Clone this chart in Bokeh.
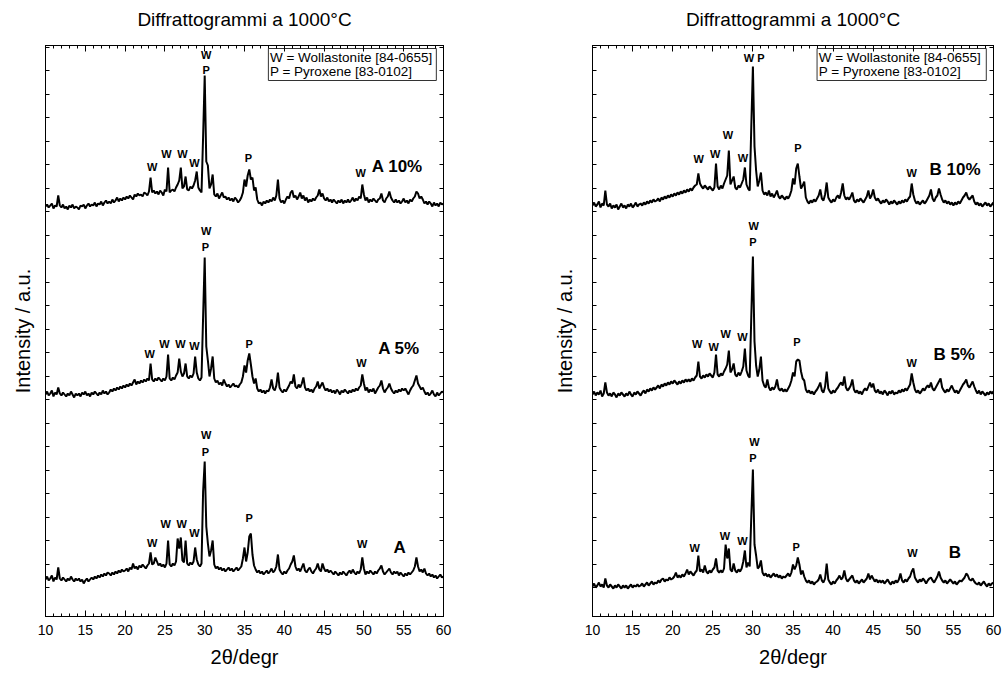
from bokeh.plotting import figure
from bokeh.layouts import row
from bokeh.models import Range1d, LinearAxis, SingleIntervalTicker, FixedTicker
from bokeh.core.properties import value
from bokeh.embed import file_html
from bokeh.resources import INLINE

FONT = "Liberation Sans"
TITLE = "Diffrattogrammi a 1000°C"
X_LABEL = "2θ/degr"
Y_LABEL = "Intensity / a.u."
LEGEND_LINES = ["W = Wollastonite [84-0655]", "P = Pyroxene [83-0102]"]

# scan grid (2theta, step 0.2 degr)
two_theta = [round(10 + 0.2 * i, 1) for i in range(251)]

# ---------------- left panel (stacked, a.u.) ----------------
a_10 = [
    410, 412, 409, 411, 413, 408, 411, 410, 421, 411,   # 10
    409, 412, 408, 410, 407, 411, 409, 412, 408, 410,   # 12
    409, 407, 411, 410, 412, 408, 411, 413, 410, 412,   # 14
    411, 414, 410, 413, 412, 415, 411, 414, 416, 413,   # 16
    415, 413, 417, 414, 416, 419, 415, 418, 416, 419,   # 18
    417, 420, 418, 421, 419, 417, 422, 420, 423, 421,   # 20
    422, 420, 424, 423, 421, 425, 439, 424, 426, 423,   # 22
    425, 422, 426, 424, 421, 427, 425, 449, 424, 426,   # 24
    427, 425, 429, 432, 436, 449, 428, 430, 440, 427,   # 26
    426, 430, 428, 431, 436, 445, 429, 426, 424, 480,   # 28
    541, 455, 451, 428, 432, 442, 422, 420, 423, 418,   # 30
    421, 424, 419, 420, 417, 419, 416, 418, 415, 419,   # 32
    417, 414, 416, 419, 424, 437, 430, 441, 447, 437,   # 34
    439, 426, 429, 417, 413, 414, 411, 415, 413, 416,   # 36
    414, 417, 415, 419, 416, 421, 437, 418, 414, 416,   # 38
    413, 417, 420, 418, 424, 426, 419, 421, 417, 420,   # 40
    424, 418, 421, 416, 419, 414, 417, 415, 418, 416,   # 42
    419, 421, 427, 420, 423, 418, 416, 419, 415, 417,   # 44
    414, 417, 415, 413, 416, 414, 417, 413, 416, 414,   # 46
    417, 414, 416, 419, 415, 418, 416, 420, 418, 432,   # 48
    422, 416, 419, 414, 417, 415, 418, 416, 414, 417,   # 50
    418, 423, 416, 414, 418, 420, 425, 419, 416, 414,   # 52
    417, 414, 416, 413, 415, 418, 414, 416, 413, 417,   # 54
    415, 418, 420, 425, 423, 418, 420, 417, 413, 415,   # 56
    412, 415, 413, 410, 414, 411, 413, 410, 414, 412,   # 58
    413,
]
a_5 = [
    222, 225, 221, 223, 226, 220, 224, 222, 229, 223,
    221, 224, 222, 220, 223, 221, 225, 222, 219, 223,
    221, 223, 220, 224, 222, 225, 221, 223, 220, 224,
    222, 225, 223, 221, 224, 222, 226, 223, 225, 222,
    224, 227, 225, 228, 226, 229, 227, 230, 228, 231,
    229, 232, 230, 233, 231, 234, 237, 232, 235, 233,
    236, 234, 237, 235, 238, 236, 253, 237, 235, 238,
    236, 239, 237, 235, 238, 236, 240, 262, 238, 236,
    239, 237, 241, 244, 258, 245, 240, 243, 253, 240,
    238, 241, 239, 243, 260, 244, 238, 236, 239, 300,
    359, 270, 256, 240, 248, 260, 238, 234, 236, 232,
    234, 231, 237, 233, 230, 232, 229, 231, 233, 230,
    231, 229, 232, 234, 240, 251, 244, 256, 263, 252,
    240, 233, 238, 228, 225, 227, 224, 226, 223, 226,
    225, 229, 237, 228, 226, 231, 244, 229, 226, 224,
    227, 225, 228, 231, 235, 233, 242, 230, 228, 232,
    229, 233, 239, 229, 226, 228, 225, 227, 224, 228,
    230, 235, 228, 231, 234, 229, 226, 228, 225, 227,
    224, 226, 223, 227, 225, 222, 226, 224, 227, 225,
    223, 226, 224, 227, 225, 228, 226, 229, 231, 242,
    233, 226, 229, 224, 227, 225, 228, 223, 226, 229,
    231, 236, 228, 224, 227, 229, 233, 228, 225, 223,
    226, 224, 227, 225, 228, 226, 228, 225, 222, 226,
    229, 231, 236, 241, 233, 230, 227, 229, 225, 222,
    224, 221, 223, 226, 222, 220, 224, 221, 223, 225,
    224,
]
a_0 = [
    37, 40, 36, 38, 41, 35, 39, 37, 49, 38,
    36, 39, 37, 35, 38, 36, 40, 37, 35, 38,
    36, 38, 35, 37, 33, 36, 38, 35, 37, 39,
    37, 40, 38, 41, 39, 42, 40, 43, 41, 44,
    43, 41, 44, 42, 45, 43, 46, 44, 47, 45,
    46, 48, 45, 49, 47, 53, 48, 50, 47, 51,
    49, 52, 50, 48, 51, 53, 64, 52, 53, 59,
    55, 51, 53, 50, 52, 49, 53, 76, 52, 50,
    53, 51, 55, 78, 68, 79, 56, 54, 76, 53,
    51, 54, 52, 55, 69, 57, 52, 50, 53, 125,
    155, 90, 73, 60, 66, 76, 52, 48, 50, 47,
    49, 46, 48, 45, 47, 49, 46, 48, 45, 47,
    49, 46, 48, 50, 58, 69, 55, 64, 80, 83,
    62, 51, 47, 44, 46, 43, 45, 42, 44, 46,
    43, 45, 48, 44, 46, 50, 62, 47, 44, 42,
    45, 43, 46, 48, 52, 55, 61, 50, 46, 48,
    45, 49, 53, 46, 44, 47, 49, 45, 43, 46,
    48, 53, 47, 45, 53, 48, 45, 47, 44, 46,
    44, 42, 45, 43, 41, 44, 42, 45, 43, 41,
    44, 46, 43, 47, 44, 42, 45, 43, 47, 59,
    48, 42, 45, 43, 46, 44, 42, 45, 43, 46,
    48, 51, 45, 42, 44, 46, 48, 44, 42, 45,
    43, 45, 41, 44, 42, 40, 43, 41, 44, 42,
    44, 46, 50, 59, 50, 45, 47, 44, 48, 43,
    41, 43, 40, 42, 39, 41, 38, 40, 42, 39,
    40,
]

# ---------------- right panel (stacked, a.u.) ----------------
b_10 = [
    411, 414, 410, 412, 415, 409, 413, 411, 426, 412,
    410, 413, 408, 411, 409, 412, 407, 410, 413, 409,
    411, 408, 412, 410, 413, 409, 411, 414, 410, 412,
    413, 411, 414, 412, 415, 413, 416, 414, 417, 415,
    416, 418, 415, 419, 417, 420, 418, 421, 419, 422,
    420, 423, 421, 424, 422, 425, 423, 426, 424, 427,
    425, 428, 426, 429, 431, 432, 443, 433, 430, 428,
    431, 429, 427, 430, 428, 426, 429, 453, 430, 427,
    431, 428, 433, 437, 441, 466, 432, 436, 440, 429,
    427, 431, 429, 433, 437, 449, 432, 428, 426, 490,
    550, 470, 446, 430, 436, 444, 426, 422, 424, 421,
    426, 420, 423, 419, 422, 426, 420, 418, 421, 419,
    417, 420, 418, 421, 426, 438, 432, 448, 453, 440,
    428, 431, 435, 419, 415, 413, 416, 414, 417, 415,
    418, 421, 427, 418, 416, 422, 434, 419, 416, 414,
    417, 415, 419, 421, 418, 424, 433, 421, 417, 419,
    417, 420, 424, 416, 414, 417, 415, 418, 416, 414,
    417, 420, 426, 418, 421, 427, 419, 416, 418, 415,
    413, 416, 414, 417, 415, 412, 415, 413, 416, 414,
    412, 415, 413, 416, 414, 417, 415, 418, 420, 433,
    422, 416, 413, 415, 412, 414, 416, 413, 415, 418,
    421, 427, 418, 415, 419, 421, 428, 422, 417, 414,
    416, 413, 415, 412, 414, 411, 414, 412, 415, 413,
    416, 419, 421, 424, 419, 417, 419, 421, 415, 412,
    414, 411, 413, 410, 412, 414, 411, 413, 410, 412,
    414,
]
b_5 = [
    222, 225, 221, 224, 222, 226, 220, 223, 234, 224,
    221, 223, 220, 224, 222, 219, 223, 221, 224, 222,
    220, 223, 221, 225, 222, 220, 224, 222, 225, 223,
    221, 224, 226, 223, 227, 225, 228, 226, 229, 227,
    229, 231, 228, 232, 230, 233, 231, 234, 232, 235,
    233, 236, 234, 232, 235, 233, 236, 234, 237, 235,
    237, 235, 238, 236, 239, 241, 255, 240, 238, 241,
    239, 242, 240, 243, 241, 239, 244, 262, 242, 240,
    243, 241, 245, 248, 252, 266, 244, 247, 253, 242,
    240, 244, 241, 245, 250, 268, 246, 241, 239, 300,
    360, 275, 251, 240, 247, 260, 236, 231, 229, 237,
    229, 226, 229, 227, 230, 237, 228, 226, 228, 225,
    227, 225, 228, 231, 236, 244, 240, 255, 257, 256,
    245, 238, 236, 227, 224, 226, 223, 225, 222, 225,
    227, 230, 234, 226, 224, 230, 245, 228, 225, 223,
    226, 224, 227, 229, 232, 234, 231, 240, 229, 226,
    228, 231, 237, 227, 224, 226, 223, 225, 222, 226,
    228, 226, 230, 234, 229, 233, 226, 224, 227, 223,
    225, 222, 226, 224, 221, 225, 223, 226, 222, 224,
    223, 226, 224, 227, 225, 228, 226, 229, 232, 243,
    234, 227, 224, 226, 223, 225, 228, 226, 229, 231,
    229, 234, 228, 226, 229, 232, 235, 238, 229, 226,
    224, 227, 225, 228, 231, 227, 224, 226, 223, 226,
    229, 232, 234, 237, 231, 229, 232, 235, 230, 226,
    223, 226, 222, 225, 223, 221, 224, 222, 225, 223,
    225,
]
b_0 = [
    30, 33, 29, 31, 34, 30, 32, 29, 38, 31,
    29, 32, 30, 28, 31, 29, 32, 30, 28, 31,
    29, 31, 28, 30, 32, 29, 31, 30, 32, 30,
    31, 33, 30, 32, 34, 31, 33, 35, 32, 34,
    33, 36, 34, 37, 38, 35, 37, 36, 39, 37,
    38, 40, 44, 39, 41, 39, 42, 40, 43, 47,
    42, 45, 43, 41, 44, 46, 61, 45, 47, 44,
    51, 45, 43, 46, 44, 47, 49, 58, 46, 44,
    46, 44, 48, 72, 58, 68, 47, 45, 53, 46,
    44, 47, 45, 48, 55, 66, 49, 54, 50, 100,
    147, 72, 61, 48, 50, 56, 44, 41, 43, 40,
    42, 39, 41, 43, 40, 42, 39, 41, 38, 40,
    39, 41, 43, 40, 44, 52, 47, 51, 59, 52,
    42, 46, 40, 36, 34, 36, 33, 35, 32, 34,
    35, 37, 42, 36, 34, 38, 53, 37, 34, 32,
    35, 33, 36, 38, 41, 37, 39, 46, 38, 35,
    37, 39, 41, 36, 34, 36, 33, 35, 37, 34,
    36, 38, 43, 37, 41, 38, 35, 37, 34, 36,
    34, 36, 33, 35, 37, 34, 32, 35, 33, 36,
    34, 37, 43, 36, 34, 37, 35, 38, 40, 45,
    48, 39, 36, 34, 37, 35, 38, 36, 33, 36,
    38, 39, 36, 34, 37, 40, 45, 39, 36, 34,
    36, 33, 35, 37, 35, 33, 35, 32, 34, 36,
    35, 37, 39, 43, 41, 37, 36, 38, 35, 33,
    32, 34, 31, 33, 35, 32, 30, 33, 31, 33,
    34,
]

# ---------------- peak assignments ----------------
left_mark_x = [23.4, 25.2, 27.2, 28.7, 30.2, 30.2, 35.5, 49.6,
               23.1, 24.95, 26.95, 28.7, 30.2, 30.1, 35.6, 49.7,
               23.4, 25.1, 27.1, 28.7, 30.2, 30.1, 35.6, 49.8]
left_mark_y = [450, 463, 463, 454, 562, 547, 459, 444,
               263, 273, 273, 271, 386, 370, 273, 254,
               74, 93, 93, 84, 182, 165, 99, 73]
left_mark_text = ["W", "W", "W", "W", "W", "P", "P", "W"] * 3

right_mark_x = [23.25, 25.3, 26.9, 28.75, 30.15, 35.6, 49.8,
                23.05, 25.1, 26.6, 28.7, 30.1, 30.0, 35.5, 49.8,
                22.75, 26.5, 28.7, 30.2, 30.0, 35.4, 49.9]
right_mark_y = [458, 463, 482, 459, 559, 469, 444,
                273, 270, 283, 280, 391, 375, 275, 254,
                69, 81, 76, 175, 159, 70, 64]
right_mark_text = ["W", "W", "W", "W", "W P", "P", "W",
                   "W", "W", "W", "W", "W", "P", "P", "W",
                   "W", "W", "W", "W", "P", "P", "W"]

left_sample_x = [54.2, 54.4, 54.5]
left_sample_y = [450, 268, 69]
left_sample_text = ["A 10%", "A 5%", "A"]
right_sample_x = [55.2, 55.1, 55.2]
right_sample_y = [447, 262, 64]
right_sample_text = ["B 10%", "B 5%", "B"]

Y_TICKS = [29 + 23.5 * k for k in range(24)]


def panel(series, mark_x, mark_y, mark_text, s_x, s_y, s_text,
          width, b_left, b_right, ylab_standoff):
    p = figure(width=width, height=673, x_range=Range1d(10, 60), y_range=Range1d(0, 571),
               output_backend="svg", toolbar_location=None,
               min_border_left=b_left, min_border_right=b_right,
               min_border_top=45, min_border_bottom=57)
    p.xgrid.visible = False
    p.ygrid.visible = False
    p.outline_line_color = "black"
    p.outline_line_width = 1
    p.background_fill_color = "white"
    p.border_fill_color = "white"

    def style_x(ax, labels):
        ax.ticker = SingleIntervalTicker(interval=5, num_minor_ticks=5)
        ax.major_tick_in = 6
        ax.major_tick_out = 0
        ax.minor_tick_in = 3
        ax.minor_tick_out = 0
        ax.axis_line_color = "black"
        ax.major_tick_line_color = "black"
        ax.minor_tick_line_color = "black"
        if labels:
            ax.major_label_text_font = FONT
            ax.major_label_text_font_size = "14px"
            ax.major_label_text_color = "black"
            ax.major_label_standoff = 8
            ax.axis_label = X_LABEL
            ax.axis_label_text_font = FONT
            ax.axis_label_text_font_size = "20px"
            ax.axis_label_text_font_style = "normal"
            ax.axis_label_text_color = "black"
            ax.axis_label_standoff = 8
        else:
            ax.major_label_text_font_size = "0px"
            ax.major_label_text_color = None
            ax.major_label_standoff = 0

    def style_y(ax, labels):
        ax.ticker = FixedTicker(ticks=Y_TICKS)
        ax.major_tick_in = 4
        ax.major_tick_out = 0
        ax.minor_tick_line_color = None
        ax.axis_line_color = "black"
        ax.major_tick_line_color = "black"
        ax.major_label_text_font_size = "0px"
        ax.major_label_text_color = None
        ax.major_label_standoff = 0
        if labels:
            ax.axis_label = Y_LABEL
            ax.axis_label_text_font = FONT
            ax.axis_label_text_font_size = "20px"
            ax.axis_label_text_font_style = "normal"
            ax.axis_label_text_color = "black"
            ax.axis_label_standoff = ylab_standoff

    style_x(p.xaxis[0], True)
    style_y(p.yaxis[0], True)
    # mirrored top axis; it also carries the panel title
    top = LinearAxis()
    style_x(top, False)
    top.axis_label = TITLE
    top.axis_label_text_font = FONT
    top.axis_label_text_font_size = "19px"
    top.axis_label_text_font_style = "normal"
    top.axis_label_text_color = "black"
    top.axis_label_standoff = 16
    p.add_layout(top, "above")
    right = LinearAxis()
    style_y(right, False)
    p.add_layout(right, "right")

    for ys in series:
        p.line(two_theta, ys, line_color="black", line_width=2)

    p.text(mark_x, mark_y, text=mark_text, text_font=value(FONT), text_font_size="11px",
           text_font_style="bold", text_align="center", text_baseline="middle",
           text_color="black")
    p.text(s_x, s_y, text=s_text, text_font=value(FONT), text_font_size="17px",
           text_font_style="bold", text_align="center", text_baseline="middle",
           text_color="black")

    # legend box
    p.quad(left=[38.0], right=[59.1], bottom=[536], top=[568], fill_color="white",
           line_color="#333333", line_width=1)
    p.text([38.2, 38.2], [559, 545], text=LEGEND_LINES, text_font=value(FONT),
           text_font_size="13.5px", text_align="left", text_baseline="middle",
           text_color="black")
    return p


left = panel([a_10, a_5, a_0], left_mark_x, left_mark_y, left_mark_text,
             left_sample_x, left_sample_y, left_sample_text, 500, 45, 57, 12)
right = panel([b_10, b_5, b_0], right_mark_x, right_mark_y, right_mark_text,
              right_sample_x, right_sample_y, right_sample_text, 503, 92, 10, 17)

layout = row(left, right)
open("out.html", "w").write(file_html(layout, INLINE))
